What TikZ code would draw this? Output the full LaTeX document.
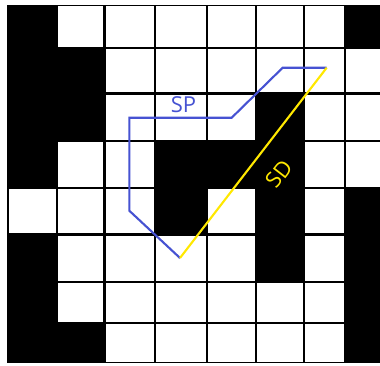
\documentclass[tikz,border=0pt]{standalone}
\usepackage{fontspec}
\setmainfont{Open Sans}
\definecolor{spblue}{RGB}{70,82,210}
\definecolor{sdyellow}{RGB}{255,232,0}
\begin{document}
\begin{tikzpicture}[x=1pt,y=-1pt,
  whitecell/.style={fill=white},
  sppath/.style={draw=spblue,line width=2.1pt,line join=miter},
  sdpath/.style={draw=sdyellow,line width=2.1pt},
  splabel/.style={text=spblue,font=\fontsize{22}{22}\selectfont,inner sep=0pt},
  sdlabel/.style={text=sdyellow,font=\fontsize{22}{22}\selectfont,inner sep=0pt}]
\useasboundingbox (0,0) rectangle (380,365);
\fill[black] (7.3,5) rectangle (380,363.3);
\foreach \r/\c in {0/1,0/2,0/3,0/4,0/5,0/6,
                   1/2,1/3,1/4,1/5,1/6,1/7,
                   2/2,2/3,2/4,2/6,2/7,
                   3/1,3/2,3/6,3/7,
                   4/0,4/1,4/2,4/4,4/6,
                   5/1,5/2,5/3,5/4,5/6,
                   6/1,6/2,6/3,6/4,6/5,6/6,
                   7/2,7/3,7/4,7/5,7/6}{
  \pgfmathsetmacro\xa{{7.3,56.7,104.3,155,206.7,256,304,345,381}[\c]}
  \pgfmathsetmacro\xb{{7.3,56.7,104.3,155,206.7,256,304,345,381}[\c+1]}
  \pgfmathsetmacro\ya{{5,47.7,93.3,141,187.7,234.3,281.7,322.7,363.3}[\r]}
  \pgfmathsetmacro\yb{{5,47.7,93.3,141,187.7,234.3,281.7,322.7,363.3}[\r+1]}
  \fill[whitecell] (\xa+1.2,\ya+1.2) rectangle (\xb-1.2,\yb-1.2);
}
\coordinate (p0) at (180,258);
\coordinate (p1) at (129.3,210.7);
\coordinate (p2) at (129.3,117.7);
\coordinate (p3) at (231.7,117.7);
\coordinate (p4) at (282.7,67.7);
\coordinate (p5) at (326.7,67.7);
\draw[sppath] (p0) -- (p1) -- (p2) -- (p3) -- (p4) -- (p5);
\draw[sdpath] (p0) -- (p5);
\node[splabel] (sp) at (183.5,105) {SP};
\node[sdlabel,rotate=52.3] (sd) at (279,174) {SD};
\end{tikzpicture}
\end{document}
